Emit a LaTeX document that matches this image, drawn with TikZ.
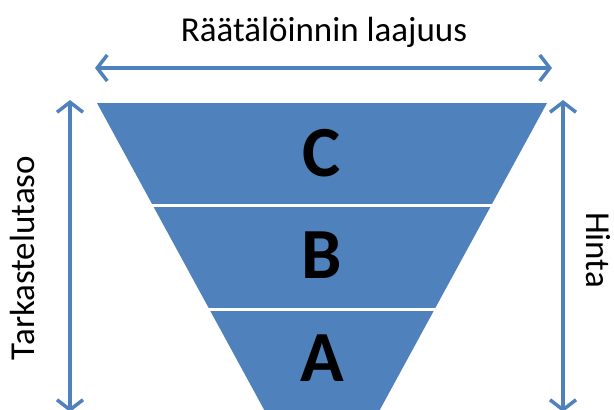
\documentclass[tikz,border=0pt]{standalone}
\usepackage{fontspec}
\setmainfont{Carlito}
\usepackage{tikz}
\usetikzlibrary{arrows.meta}

\definecolor{funnelblue}{HTML}{4F81BD}

\begin{document}
\begin{tikzpicture}[
  x=1pt, y=-1pt,
  dimarrow/.style={draw=funnelblue, line width=3.5pt,
    {Straight Barb[length=10pt, width=26pt, line width=3.5pt]}-{Straight Barb[length=10pt, width=26pt, line width=3.5pt]}},
  band/.style={font=\fontsize{72}{72}\selectfont\bfseries, text=black},
  axislabel/.style={font=\fontsize{35}{35}\selectfont, text=black},
]
\useasboundingbox (0,0) rectangle (614,410);
\clip (0,0) rectangle (614,410);

% Funnel
\fill[funnelblue] (97,103) -- (547,103) -- (322,516) -- cycle;
\draw[white, line width=3.5pt] (140,205.5) -- (500,205.5);
\draw[white, line width=3.5pt] (190,309.5) -- (450,309.5);

% Letters
\node[band] (lvlC) at (322,153) {C};
\node[band] (lvlB) at (322,255) {B};
\node[band] (lvlA) at (322,358) {A};

% Arrow end points
\coordinate (topL) at (95,68);
\coordinate (topR) at (552,68);
\coordinate (leftT) at (70,100);
\coordinate (leftB) at (70,412);
\coordinate (rightT) at (563,100);
\coordinate (rightB) at (563,412);

% Arrows
\draw[dimarrow] (topL) -- (topR);
\draw[dimarrow] (leftT) -- (leftB);
\draw[dimarrow] (rightT) -- (rightB);

% Labels
\node[axislabel] (scope) at (324,32) {Räätälöinnin laajuus};
\node[axislabel, rotate=90] (depth) at (22,258) {Tarkastelutaso};
\node[axislabel, rotate=-90] (price) at (598,250) {Hinta};
\end{tikzpicture}
\end{document}
